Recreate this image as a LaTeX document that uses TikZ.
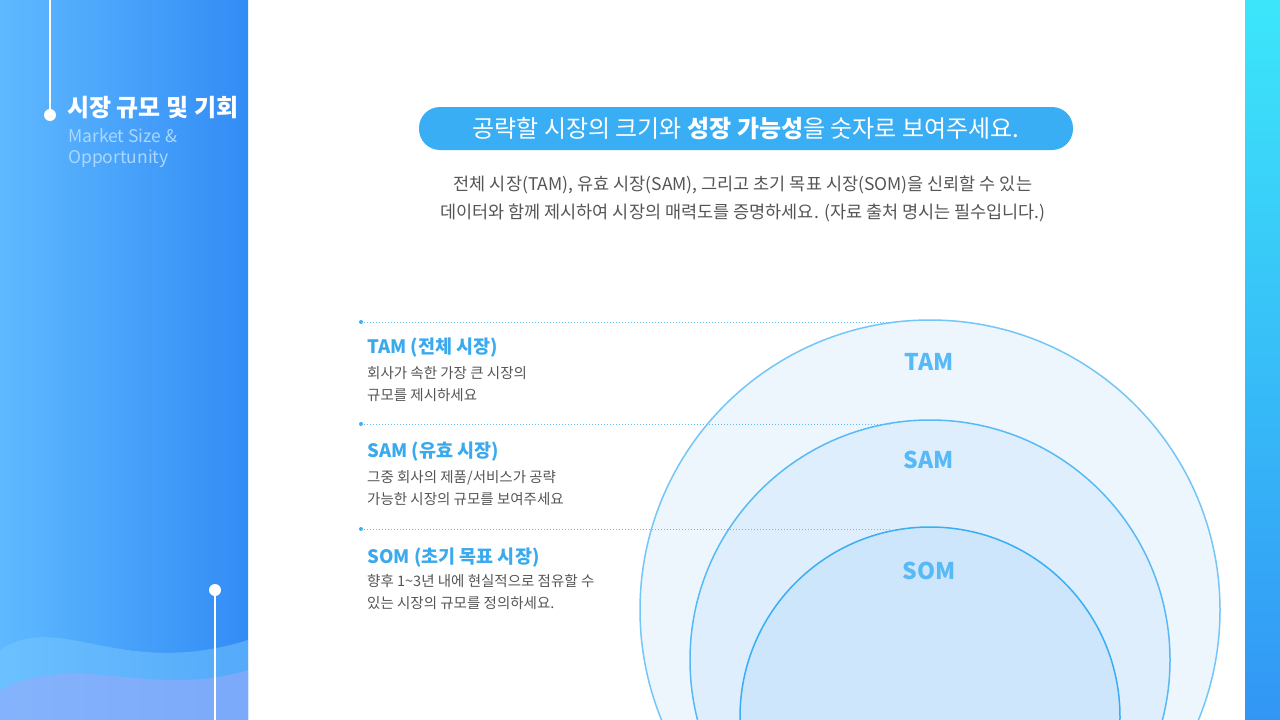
\documentclass[tikz,border=0pt]{standalone}
\usepackage{fontspec}
\setmainfont{Noto Sans CJK KR}
\usetikzlibrary{calc}
\definecolor{bl}{HTML}{3AAEF5}
\definecolor{lbl}{HTML}{3BA9EE}
\definecolor{gtx}{HTML}{555555}
\definecolor{pl}{RGB}{95,185,255}
\definecolor{pr}{RGB}{50,140,245}
\definecolor{w1}{RGB}{120,200,255}
\definecolor{w2}{RGB}{150,170,250}
\definecolor{st}{RGB}{60,230,250}
\definecolor{sb}{RGB}{50,150,245}
\definecolor{c1}{RGB}{238,246,253}
\definecolor{c2}{RGB}{222,238,252}
\definecolor{c3}{RGB}{205,230,252}
\definecolor{subt}{RGB}{170,215,255}
\tikzset{dotline/.style={draw=bl!80,line width=1pt,dotted},
 head/.style={anchor=west,text=lbl,font=\bfseries\fontsize{18.5}{22}\selectfont},
 desc/.style={anchor=north west,inner sep=0pt,text=gtx,font=\fontsize{14.5}{22}\selectfont,align=left},
 clab/.style={text=bl!85,font=\bfseries\fontsize{23}{26}\selectfont}}
\begin{document}
\begin{tikzpicture}[x=1pt,y=-1pt]
\useasboundingbox (0,0) rectangle (1280,720);
\fill[white] (0,0) rectangle (1280,720);
% left panel
\shade[left color=pl,right color=pr] (0,0) rectangle (248,720);
\fill[w1,opacity=0.5] (0,650) .. controls (60,610) and (120,680) .. (248,640) -- (248,720) -- (0,720) -- cycle;
\fill[w2,opacity=0.6] (0,690) .. controls (80,650) and (150,700) .. (248,670) -- (248,720) -- (0,720) -- cycle;
\draw[white,line width=1.2pt] (50,0) -- (50,115);
\fill[white] (50,115) circle (6);
\node[anchor=west,inner sep=0pt,text=white,font=\bfseries\fontsize{24}{28}\selectfont] (t) at (67,108) {시장 규모 및 기회};
\node[anchor=north west,inner sep=0pt,text=subt,font=\fontsize{17.5}{21}\selectfont,align=left] (ts) at (68,128) {Market Size \&\\Opportunity};
\draw[white,line width=1.2pt] (215,590) -- (215,720);
\fill[white] (215,590) circle (6);
% right strip
\shade[top color=st,bottom color=sb] (1245,0) rectangle (1280,720);
% pill
\node[fill=bl,rounded corners=21pt,minimum width=654pt,minimum height=43pt,text=white,font=\fontsize{24}{28}\selectfont] (pill) at (746,128.5) {공략할 시장의 크기와 \textbf{성장 가능성}을 숫자로 보여주세요.};
\node[text=gtx,font=\fontsize{17.5}{28}\selectfont,align=center] (sub) at (743,199) {전체 시장(TAM), 유효 시장(SAM), 그리고 초기 목표 시장(SOM)을 신뢰할 수 있는\\데이터와 함께 제시하여 시장의 매력도를 증명하세요. (자료 출처 명시는 필수입니다.)};
% circles
\begin{scope}
\clip (248,0) rectangle (1245,720);
\fill[c1] (930,610) circle (290);
\draw[bl!70,line width=1.5pt] (930,610) circle (290);
\fill[c2] (930,660) circle (240);
\draw[bl!85,line width=1.5pt] (930,660) circle (240);
\fill[c3] (930,717) circle (190);
\draw[bl,line width=1.5pt] (930,717) circle (190);
\end{scope}
\node[clab] (ct) at (929,362) {TAM};
\node[clab] (cs) at (929,460) {SAM};
\node[clab] (co) at (929,571) {SOM};
% dotted lines
\foreach \y/\n in {322/a,424/b,529/c}{
 \coordinate (s\n) at (361,\y); \coordinate (e\n) at (890,\y);
 \fill[bl] (s\n) circle (2);
 \draw[dotline] (s\n) -- (e\n);}
\node[head,inner sep=0pt] (h1) at (367,348) {TAM (전체 시장)};
\node[desc] (d1) at (367,366) {회사가 속한 가장 큰 시장의\\규모를 제시하세요};
\node[head,inner sep=0pt] (h2) at (367,452) {SAM (유효 시장)};
\node[desc] (d2) at (367,470) {그중 회사의 제품/서비스가 공략\\가능한 시장의 규모를 보여주세요};
\node[head,inner sep=0pt] (h3) at (367,558) {SOM (초기 목표 시장)};
\node[desc] (d3) at (367,574) {향후 1\textasciitilde3년 내에 현실적으로 점유할 수\\있는 시장의 규모를 정의하세요.};
\end{tikzpicture}
\end{document}
